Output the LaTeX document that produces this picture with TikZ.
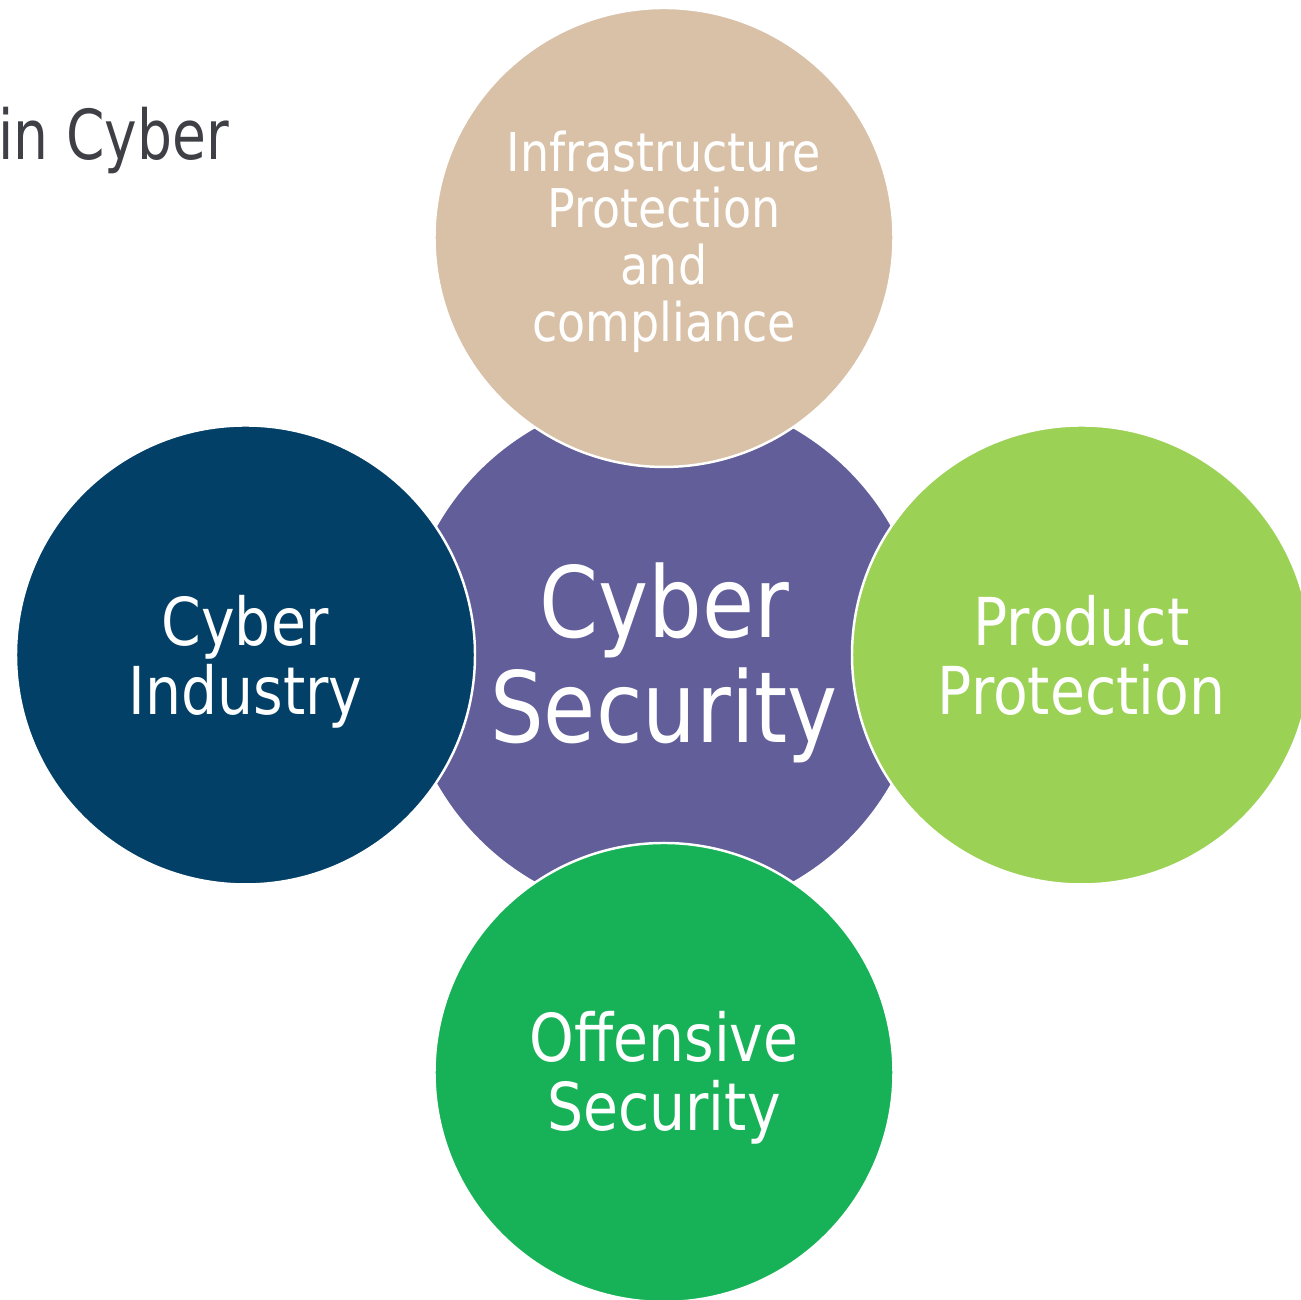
\documentclass[tikz,border=0pt]{standalone}
\usepackage{fontspec}
\setmainfont{DejaVu Sans}[FakeStretch=0.86]
\usepackage{tikz}
\definecolor{infratan}{HTML}{D9C1A8}
\definecolor{cyberpurple}{HTML}{625E9A}
\definecolor{industrynavy}{HTML}{024068}
\definecolor{productgreen}{HTML}{9BD154}
\definecolor{offensegreen}{HTML}{17B257}
\definecolor{titlegray}{HTML}{3F3F46}

\begin{document}
\begin{tikzpicture}[
    bubble/.style={circle, draw=white, line width=0.7pt, minimum size=4.59cm,
                   inner sep=0pt},
    bubbletext/.style={text=white, align=center, inner sep=0pt},
    smalltext/.style={font=\fontsize{18.8}{19.6}\selectfont}
  ]
    \useasboundingbox (0,0) rectangle (13.01,13.00);

    % title, cut at the left edge
    \node[anchor=base west, text=titlegray, inner sep=0pt,
          font=\fontsize{19.6}{22}\selectfont, xscale=0.93] (title) at (-0.02,11.40) {in Cyber};

    % centre first, the others overlap it
    \node[bubble, fill=cyberpurple, minimum size=5.24cm] (core) at (6.64,6.45) {};
    \node[bubble, fill=infratan] (infra) at (6.64,10.625) {};
    \node[bubble, fill=industrynavy] (industry) at (2.455,6.45) {};
    \node[bubble, fill=productgreen] (product) at (10.815,6.45) {};
    \node[bubble, fill=offensegreen] (offense) at (6.64,2.275) {};

    \node[bubbletext, font=\fontsize{28}{29.9}\selectfont, yshift=-0.08cm]
      (core-text) at (core) {Cyber\\Security};
    \node[bubbletext, font=\fontsize{15.2}{16.1}\selectfont, yshift=-0.04cm]
      (infra-text) at (infra) {Infrastructure\\Protection\\and\\compliance};
    \node[bubbletext, smalltext, yshift=-0.07cm]
      (industry-text) at (industry) {Cyber\\Industry};
    \node[bubbletext, smalltext]
      (product-text) at (product) {Product\\Protection};
    \node[bubbletext, smalltext, yshift=-0.05cm]
      (offense-text) at (offense) {Offensive\\Security};
  \end{tikzpicture}
\end{document}
